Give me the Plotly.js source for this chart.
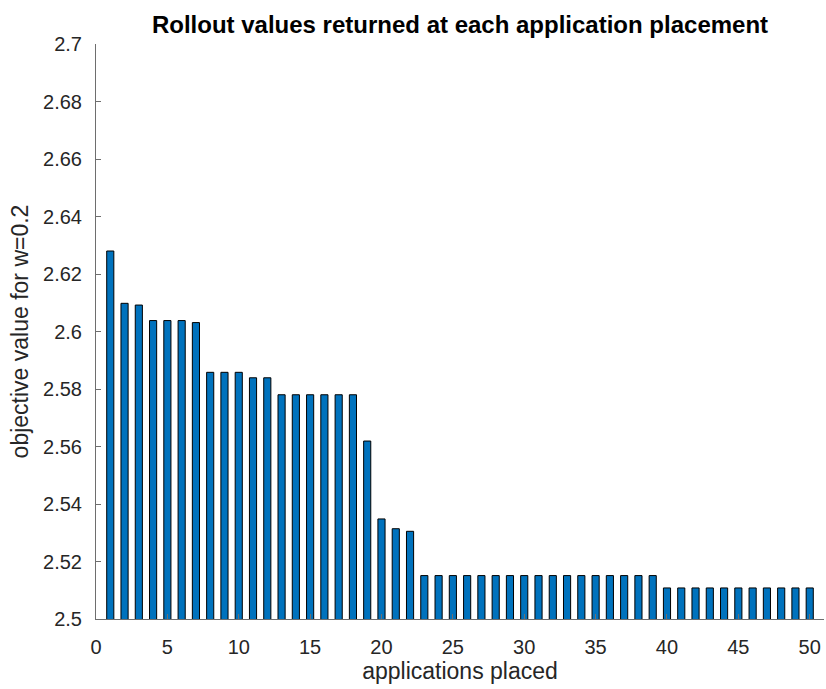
<!DOCTYPE html>
<html>
<head>
<meta charset="utf-8">
<script src="https://cdn.plot.ly/plotly-3.0.1.min.js"></script>
<style>
  html, body { margin: 0; padding: 0; background: #fff; }
  #chart { width: 826px; height: 689px; }
</style>
</head>
<body>
<div id="chart"></div>
<script>
// Number of applications placed so far (1..50)
const placements = Array.from({length: 50}, (_, i) => i + 1);

// Rollout objective value returned at each placement (w = 0.2)
const rolloutValues = [
  2.628, 2.6098, 2.6092, 2.6038, 2.6038, 2.6038, 2.6031, 2.5858, 2.5858, 2.5858,
  2.5839, 2.5839, 2.578, 2.578, 2.578, 2.578, 2.578, 2.578, 2.5619, 2.5348,
  2.5314, 2.5305, 2.5151, 2.5151, 2.5151, 2.5151, 2.5151, 2.5151, 2.5151, 2.5151,
  2.5151, 2.5151, 2.5151, 2.5151, 2.5151, 2.5151, 2.5151, 2.5151, 2.5151, 2.5108,
  2.5108, 2.5108, 2.5108, 2.5108, 2.5108, 2.5108, 2.5108, 2.5108, 2.5108, 2.5108
];

// Axis ticks
const yTickVals = [2.5, 2.52, 2.54, 2.56, 2.58, 2.6, 2.62, 2.64, 2.66, 2.68, 2.7];
const yTickText = ['2.5', '2.52', '2.54', '2.56', '2.58', '2.6', '2.62', '2.64', '2.66', '2.68', '2.7'];
const xTickVals = [0, 5, 10, 15, 20, 25, 30, 35, 40, 45, 50];

const font = 'Liberation Sans, Arial, Helvetica, sans-serif';
const textColor = '#262626';
const lineColor = '#6e6e6e';

const trace = {
  type: 'bar',
  x: placements,
  y: rolloutValues,
  width: 0.5,
  marker: { color: '#0072BD', line: { color: '#000000', width: 1 } },
  hoverinfo: 'x+y'
};

const layout = {
  width: 826,
  height: 689,
  margin: { l: 96, r: 2, t: 44, b: 70 },
  paper_bgcolor: '#ffffff',
  plot_bgcolor: '#ffffff',
  showlegend: false,
  font: { family: font, color: textColor, size: 20 },
  title: {
    text: '<b>Rollout values returned at each application placement</b>',
    font: { family: font, size: 24, color: '#000000' },
    x: 0.5, xanchor: 'center', xref: 'paper',
    y: 0.965, yanchor: 'middle'
  },
  xaxis: {
    range: [0, 51],
    tickvals: xTickVals,
    ticks: 'inside', ticklen: 5, tickcolor: lineColor,
    showline: true, linecolor: lineColor, linewidth: 1,
    showgrid: false, zeroline: false,
    ticklabelstandoff: 10,
    tickfont: { size: 20, color: textColor },
    title: { text: 'applications placed', font: { size: 23, color: textColor }, standoff: 4 }
  },
  yaxis: {
    range: [2.5, 2.7],
    tickvals: yTickVals,
    ticktext: yTickText,
    ticks: 'inside', ticklen: 5, tickcolor: lineColor,
    showline: true, linecolor: lineColor, linewidth: 1,
    showgrid: false, zeroline: false,
    ticklabelstandoff: 9,
    tickfont: { size: 20, color: textColor },
    title: { text: 'objective value for w=0.2', font: { size: 23, color: textColor }, standoff: 8 }
  }
};

Plotly.newPlot('chart', [trace], layout, { displayModeBar: false, staticPlot: true });
</script>
</body>
</html>
